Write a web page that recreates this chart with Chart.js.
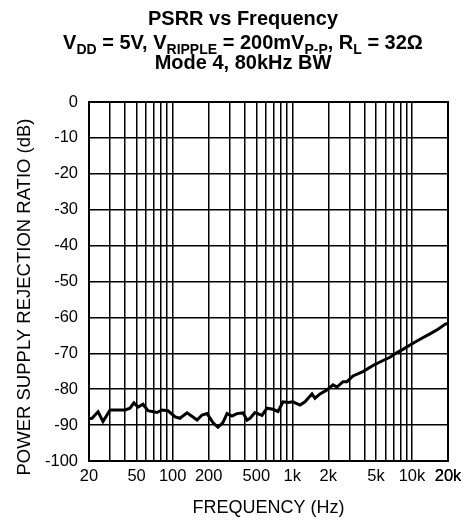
<!DOCTYPE html>
<html>
<head>
<meta charset="utf-8">
<script src="https://cdn.jsdelivr.net/npm/chart.js@4.4.0/dist/chart.umd.min.js"></script>
<style>
html, body { margin: 0; padding: 0; background: #fff; }
#wrap { width: 472px; height: 524px; position: relative; }
</style>
</head>
<body>
<div id="wrap"><canvas id="myChart" width="472" height="524"></canvas></div>
<script>
// PSRR curve (Hz, dB)
var freq = [20, 21.2, 23.8, 26.2, 30, 40, 44, 47.5, 51.4, 56.5, 62.2, 74, 81.5, 91.5, 105, 115, 132, 160, 176, 194,
    217, 239, 263, 285, 313, 345, 387, 418, 443, 488, 558, 614, 689, 759, 836, 920, 1013, 1159, 1277, 1461,
    1547, 1704, 1949, 2188, 2362, 2652, 2864, 3214, 3897, 4724, 5725, 6550, 7496, 8414, 9626, 11668, 14146, 16500, 18876, 20000];
var psrr = [-88.2, -88.1, -86.3, -89, -85.8, -85.8, -85.3, -83.8, -85, -84.2, -86, -86.5, -85.8, -86, -87.7, -88.1, -86.6, -88.6, -87.2, -86.8,
    -89.3, -90.6, -89.3, -86.8, -87.5, -86.8, -86.6, -88.6, -88.1, -86.5, -87.3, -85.3, -85.6, -86.2, -83.5, -83.7, -83.5, -84.4, -83.5, -81.3,
    -82.5, -81.3, -80.2, -78.8, -79.4, -77.9, -77.9, -76.3, -75.1, -73.4, -72, -71.1, -69.8, -68.9, -67.7, -66.1, -64.6, -63.3, -61.9, -61.6];

var xTickValues = [20, 50, 100, 200, 500, 1000, 2000, 5000, 10000, 20000];
var xTickLabels = ['20', '50', '100', '200', '500', '1k', '2k', '5k', '10k', '20k'];
var yMin = -100, yMax = 0;

var fontFamily = "'Liberation Sans', Arial, sans-serif";
var yTitle = 'POWER SUPPLY REJECTION RATIO (dB)';

// log-paper grid: 1..9 in every decade
var gridFreqs = [];
[10, 100, 1000, 10000].forEach(function(dec) {
    for (var m = 1; m <= 9; m++) {
        var v = m * dec;
        if (v >= 20 && v <= 20000) gridFreqs.push(v);
    }
});
gridFreqs.push(20000);

var points = [];
for (var i = 0; i < freq.length; i++) {
    points.push({x: freq[i], y: psrr[i]});
}

var titleLines = [
    [['PSRR vs Frequency', 0]],
    [['V', 0], ['DD', 1], [' = 5V, V', 0], ['RIPPLE', 1], [' = 200mV', 0], ['P-P', 1], [', R', 0], ['L', 1], [' = 32\u03A9', 0]],
    [['Mode 4, 80kHz BW', 0]]
];
var titleBaselines = [25, 49, 69];

var titlePlugin = {
    id: 'titlePlugin',
    afterDraw: function(chart) {
        var c = chart.ctx;
        var a = chart.chartArea;
        c.save();
        // frame
        c.strokeStyle = '#000';
        c.lineWidth = 2;
        c.strokeRect(a.left, a.top, a.right - a.left, a.bottom - a.top);
        // title lines
        c.fillStyle = '#000';
        c.textBaseline = 'alphabetic';
        c.textAlign = 'left';
        var big = 'bold 20px ' + fontFamily;
        var small = 'bold 14px ' + fontFamily;
        var cx = 243;
        for (var l = 0; l < titleLines.length; l++) {
            var parts = titleLines[l];
            var w = 0;
            parts.forEach(function(p) {
                c.font = p[1] ? small : big;
                w += c.measureText(p[0]).width;
            });
            var x = cx - w / 2;
            parts.forEach(function(p) {
                c.font = p[1] ? small : big;
                c.fillText(p[0], x, titleBaselines[l] + (p[1] ? 5 : 0));
                x += c.measureText(p[0]).width;
            });
        }
        // y axis title, sits a bit below the plot centre
        c.translate(25, 297);
        c.rotate(-Math.PI / 2);
        c.font = '18.5px ' + fontFamily;
        c.textAlign = 'center';
        c.textBaseline = 'middle';
        c.fillText(yTitle, 0, 0);
        c.restore();
    }
};

var ctx = document.getElementById('myChart').getContext('2d');
var myChart = new Chart(ctx, {
    type: 'line',
    data: {
        datasets: [{
            data: points,
            borderColor: '#000',
            borderWidth: 3,
            pointRadius: 0,
            fill: false,
            tension: 0
        }]
    },
    options: {
        responsive: false,
        animation: false,
        layout: {padding: {left: 0, top: 102, right: 24, bottom: 0}},
        plugins: {legend: {display: false}, tooltip: {enabled: false}},
        scales: {
            x: {
                type: 'logarithmic',
                min: 20,
                max: 20000,
                afterBuildTicks: function(s) {
                    s.ticks = gridFreqs.map(function(v) { return {value: v}; });
                },
                afterFit: function(s) { s.height = 63; },
                grid: {color: '#000', lineWidth: 1.5, drawTicks: false},
                border: {color: '#000', width: 2},
                ticks: {
                    autoSkip: false,
                    maxRotation: 0,
                    padding: 6,
                    color: '#000',
                    font: {family: fontFamily, size: 16.5},
                    callback: function(v) {
                        var k = xTickValues.indexOf(v);
                        return k < 0 ? '' : xTickLabels[k];
                    }
                },
                title: {
                    display: true,
                    text: 'FREQUENCY (Hz)',
                    color: '#000',
                    font: {family: fontFamily, size: 18},
                    padding: {top: 0, bottom: 5}
                }
            },
            y: {
                min: yMin,
                max: yMax,
                afterFit: function(s) { s.width = 89; },
                grid: {color: '#000', lineWidth: 1.5, drawTicks: false},
                border: {color: '#000', width: 2},
                ticks: {
                    stepSize: 5,
                    padding: 11,
                    color: '#000',
                    font: {family: fontFamily, size: 16.5},
                    callback: function(v) {
                        if (v === 0) return '0';
                        return v % 10 === 0 ? String(v) : '';
                    }
                },
                title: {display: false}
            }
        }
    },
    plugins: [titlePlugin]
});
</script>
</body>
</html>
